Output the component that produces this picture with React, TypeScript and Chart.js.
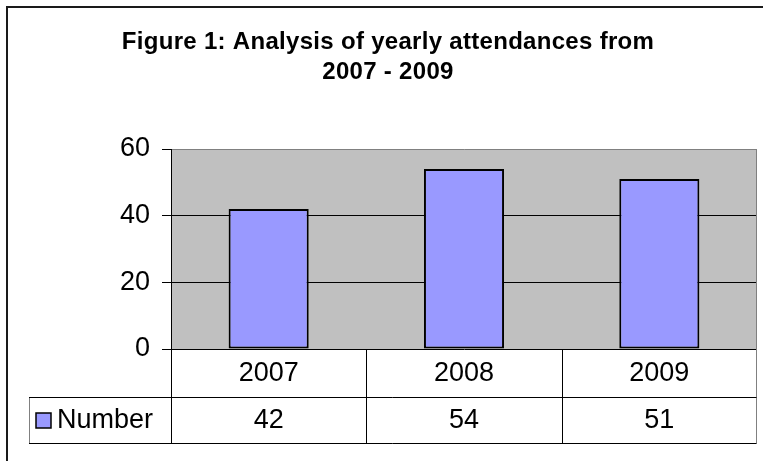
import React, { useEffect, useRef } from 'react';
import { Chart, registerables } from 'chart.js';

Chart.register(...registerables);

const categories = ['2007', '2008', '2009'];
const seriesName = 'Number';
const numberValues = [42, 54, 51];
const yTickValues = [0, 20, 40, 60];
const titleLines = ['Figure 1: Analysis of yearly attendances from', '2007 - 2009'];

const FONT = '"Liberation Sans", Arial, Helvetica, sans-serif';
const BAR_COLOR = '#9999FF';
const PLOT_BG = '#C0C0C0';
const PLOT_BORDER = '#808080';

export default function App() {
  const ref = useRef<HTMLCanvasElement>(null);

  useEffect(() => {
    const canvas = ref.current;
    if (!canvas) return;

    const decor = {
      id: 'decor',
      beforeDraw(chart: any) {
        const ctx = chart.ctx;
        const a = chart.chartArea;
        ctx.save();
        ctx.fillStyle = '#ffffff';
        ctx.fillRect(0, 0, chart.width, chart.height);
        ctx.fillStyle = PLOT_BG;
        ctx.fillRect(a.left, a.top, a.right - a.left, a.bottom - a.top);
        ctx.restore();
      },
      afterDraw(chart: any) {
        const ctx = chart.ctx;
        const a = chart.chartArea;
        const xs = chart.scales.x;
        const n = categories.length;
        const step = n > 1 ? xs.getPixelForValue(1) - xs.getPixelForValue(0) : a.right - a.left;
        const row1Bottom = a.bottom + 48;
        const row2Bottom = a.bottom + 94;
        const legendLeft = 29;

        ctx.save();
        // plot right border (continues down through the table)
        ctx.lineWidth = 1;
        ctx.strokeStyle = PLOT_BORDER;
        ctx.beginPath();
        ctx.moveTo(Math.round(a.right) - 0.5, a.top);
        ctx.lineTo(Math.round(a.right) - 0.5, row2Bottom + 0.5);
        ctx.stroke();
        // legend cell left border
        ctx.beginPath();
        ctx.moveTo(legendLeft + 0.5, row1Bottom);
        ctx.lineTo(legendLeft + 0.5, row2Bottom + 0.5);
        ctx.stroke();

        ctx.strokeStyle = '#000000';
        ctx.beginPath();
        // horizontal table lines
        ctx.moveTo(legendLeft, row1Bottom + 0.5);
        ctx.lineTo(Math.round(a.right) - 0.5, row1Bottom + 0.5);
        ctx.moveTo(legendLeft, row2Bottom + 0.5);
        ctx.lineTo(Math.round(a.right) - 0.5, row2Bottom + 0.5);
        // vertical table lines
        for (let i = 0; i < n; i++) {
          const bx = Math.round(xs.getPixelForValue(i) - step / 2) + 0.5;
          ctx.moveTo(bx, a.bottom);
          ctx.lineTo(bx, row2Bottom + 0.5);
        }
        ctx.stroke();

        // table texts
        ctx.fillStyle = '#000000';
        ctx.font = `27px ${FONT}`;
        ctx.textAlign = 'center';
        ctx.textBaseline = 'middle';
        const r1 = (a.bottom + row1Bottom) / 2 + 1;
        const r2 = (row1Bottom + row2Bottom) / 2 + 1;
        categories.forEach((c, i) => {
          const cx = xs.getPixelForValue(i);
          ctx.fillText(c, cx, r1);
          ctx.fillText(String(numberValues[i]), cx, r2);
        });

        // legend key
        ctx.fillStyle = BAR_COLOR;
        ctx.fillRect(36, r2 - 8, 15, 15);
        ctx.lineWidth = 1.5;
        ctx.strokeStyle = '#000000';
        ctx.strokeRect(36, r2 - 8, 15, 15);
        ctx.fillStyle = '#000000';
        ctx.textAlign = 'left';
        ctx.fillText(seriesName, 57, r2);

        // title
        ctx.font = `bold 24px ${FONT}`;
        (ctx as any).letterSpacing = '0.3px';
        ctx.textAlign = 'center';
        titleLines.forEach((t, i) => {
          ctx.fillText(t, 388, 42 + i * 30);
        });
        (ctx as any).letterSpacing = '0px';

        // outer chart border
        ctx.lineWidth = 2;
        ctx.strokeStyle = '#1a1a1a';
        ctx.strokeRect(7, 7, 820, 520);
        ctx.restore();
      },
    };

    const chart = new Chart(canvas, {
      type: 'bar',
      data: {
        labels: categories,
        datasets: [
          {
            label: seriesName,
            data: numberValues,
            backgroundColor: BAR_COLOR,
            borderColor: '#000000',
            borderWidth: 2,
            borderSkipped: false,
            barPercentage: 0.41,
            categoryPercentage: 1,
          },
        ],
      },
      options: {
        responsive: false,
        animation: false,
        devicePixelRatio: 1,
        layout: { padding: { top: 149, right: 6, bottom: 112, left: 0 } },
        plugins: {
          legend: { display: false },
          title: { display: false },
          tooltip: { enabled: false },
        },
        scales: {
          x: {
            display: false,
            offset: true,
            grid: { display: false },
          },
          y: {
            min: yTickValues[0],
            max: yTickValues[yTickValues.length - 1],
            afterBuildTicks(scale: any) {
              scale.ticks = yTickValues.map((v) => ({ value: v }));
            },
            afterFit(scale: any) {
              scale.width = 171;
            },
            ticks: {
              color: '#000000',
              font: { family: FONT, size: 27 },
              padding: 12,
            },
            grid: {
              color: (c: any) => (c.tick && c.tick.value === yTickValues[yTickValues.length - 1] ? PLOT_BORDER : '#000000'),
              tickColor: '#000000',
              tickLength: 9,
              lineWidth: 1,
            },
            border: { color: '#000000', width: 1 },
          },
        },
      },
      plugins: [decor],
    });

    return () => chart.destroy();
  }, []);

  return (
    <div style={{ position: 'absolute', left: 0, top: 0, width: 763, height: 461 }}>
      <canvas ref={ref} width={763} height={461} style={{ display: 'block', width: 763, height: 461 }} />
    </div>
  );
}
